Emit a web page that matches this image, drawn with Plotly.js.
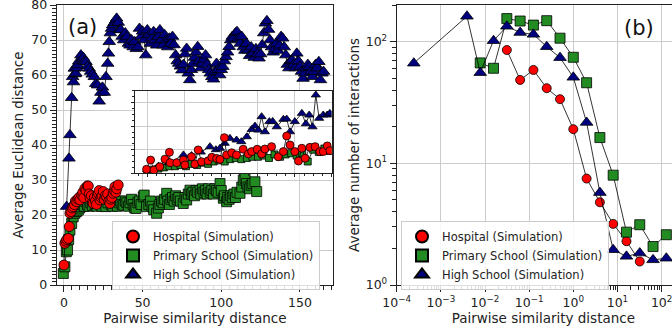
<!DOCTYPE html>
<html><head><meta charset="utf-8">
<script src="https://cdn.plot.ly/plotly-3.0.1.min.js"></script>
<style>html,body{margin:0;padding:0;overflow:hidden;background:#fff}#chart{width:690px;height:333px}</style>
</head><body><div id="chart"></div>
<script>
// ---------- Panel (a) data ----------
const aHosX = [0,0.6,1.2,1.8,2.8,3.4,3.8,4.5,5.2,5.9,6.6,7.3,8.1,8.8,9.5,10.2,11.3,12,12.6,13.3,14,14.8,15.5,16.1,16.6,17.4,18,18.6,19.3,20,20.7,21.3,21.8,22.4,22.9,23.6,24.2,25,25.6,26.3,27.1,27.8,28.5,29.2,29.8,30.5,31.3,31.9,32.4,33,33.6,34.5];
const aHosY = [5.7,11.9,12.5,13,13.3,16.7,20.5,21,22,22.4,23,24,23.8,24.5,25,24.3,25.7,26.5,25,27.6,27,28.3,28.3,26,24.8,25.5,23.5,23.3,25,24,23,25.5,26.2,27,24.3,25,25.5,26.7,24.5,25.5,25.2,26,24,23.3,24.5,25,26.2,27,28.1,26.5,27.5,28.6];

const aPriX = [-0.4,0.6,1.5,2.3,3,3.8,4.9,5.9,7,8,9.1,10,11,12,13,14,15,16,17,18,19,20,21,22,23,24,25,26,26.7,28,29,30,31,32,33,34,35,36,37,38,39,40,41,42,43,44,45,45.8,47,48,49,50.4,51,52.5,54,55,56,57,58.9,60,61,62,63,64,65.3,66,67,68,69,70,71,72,73,74,75.8,77,78,79,80.1,81,82,83,84,85,86.5,87,88,89,90,91,92,93,94,95,96,97,98,99.2,100,101.3,102,103.4,104,105,106,107,108,109,110,111.9,113,114,115.1,116,117,118,119,120,121.4,122.5];
const aPriY = [3.3,5.2,9.5,10,13,15.7,17.6,19.5,20.5,21,21.4,22,22.5,23,22.5,23.8,23,22.5,23.5,22.8,24,23,22.5,24,23.5,22.5,23.5,24,22.4,23.5,24.5,23,22.5,24,23.5,22.5,23.5,24,23,22.8,24,23.5,22.5,23.5,24.5,23,22,21.9,23.5,24,23,25.2,25.7,22.4,23,24,22.5,21.5,20.5,22,23,24,23.5,24.5,26.2,24,23,24.5,25,24,25.5,24.5,25,24,23.3,25,24.3,26,27.1,26,26.5,25.5,27,26.5,27.1,26,27.5,26.5,27,26,27.5,26.5,27,26,27.5,27,26.5,29,27,24.8,25.5,23.8,25,24.5,25.5,25,26,25,26.5,26.2,28,30,30.5,29,28,27.5,28.5,29,29.5,26.7];

const aHigX = [1.7,3.2,3.8,4.9,5.5,6.1,6.6,7.0,7.5,8.1,8.7,9.5,10.8,11.5,12.3,13,14,15,16.1,17,18,19.3,20.2,21.4,22.4,23.5,24.5,25.6,26.7,27.8,28.3,28.8,29.5,30.3,31,32,33,33.5,34.5,35.5,36.2,37,38,39,40,41,42,43,44,45,46,47,48,49,50,51,52,53,54,55,56,57,58,59,60,61,62,63,64,65,66,67,68,69,70,71,72,73,74,75,76,77,78,79,80,81,82,83,84,85,86,87,88,89,90,91,92,93,94,95,96,97,98,99,100,101,102,103,104,105,106,107,108,109,110,111,112,113,114,115,116,117,118,119,120,121,122,123,124,125,126,127,128,129,130,131,132,133,134,135,136,137,138,139,140,141,142,143,144,145,146,147,148,149,150,151,152,153,154,155,156,157,158,159,160,161,162,163,164,165];
const aHigY = [22.4,36.2,42.9,53.5,59.5,58,61.9,60.3,60.5,62,62.9,64,65.7,64.5,65,64,63.8,62.5,61.9,61,60.2,59.5,57.5,57.1,52.5,55,56.5,55,59.5,63.3,66.2,69.5,72,73.3,74.3,75,75.7,76.2,75,73,72.9,71,70,72,70.9,69,68.5,70,68,69.5,67.5,68,73.3,71,72.5,70,65.7,72.9,71.5,69,70.5,72.4,70,68.5,71,72.9,70,68.5,71.5,70,68,70.5,69,71,68.6,65.7,64,63.3,62.5,61.4,63,66,67.6,60.5,58.6,61.5,63.3,65,66.5,68.1,64,62,63.3,64.5,65.7,63,61.5,60.5,59.5,58.8,61,63.3,61.5,60,61.5,62.4,64,65.2,66.5,68.1,70,71,70.5,72,72.4,70.5,69,71,68,67,69,67.1,65.5,68,66.2,65,67.5,66,64.8,66,68.6,72,74.8,75.5,73,70,68,66.5,67.5,69,67,68.5,71,70.5,68,65.7,63,62,64,64.3,63,62,66.2,64,62.4,61,59,60.5,62,63,62.4,61,59.5,61,63,62,63.8,58.6,60.5,61];

// ---------- Inset data ----------
const inHosX = [-0.02,0.09,0.18,0.34,0.48,0.6,0.62,0.8,0.98,1.02,1.2,1.29,1.38,1.47,1.65,1.75,1.88,1.97,2.09,2.15,2.29,2.42,2.6,2.74,2.83,2.98,3.1,3.19,3.37,3.55,3.69,3.78,3.87,4.0,4.1,4.19,4.28,4.41,4.55,4.68,4.77,4.88,4.95];
const inHosY = [0.17,0.56,0.14,0.28,0.6,0.89,0.45,0.45,0.56,0.35,0.7,0.39,0.99,0.49,0.53,0.68,0.63,0.59,1.51,0.78,0.87,0.78,1.02,0.82,0.92,1.02,0.82,1.03,1.13,0.7,0.92,1.58,1.2,0.92,0.52,1.06,0.64,1.1,1.13,0.92,0.92,1.16,0.96];
const inPriX = [0,0.15,0.3,0.45,0.6,0.75,0.9,1.05,1.2,1.35,1.5,1.65,1.8,1.95,2.1,2.25,2.4,2.55,2.7,2.85,3.0,3.15,3.3,3.45,3.6,3.75,3.9,4.05,4.2,4.35,4.5,4.65,4.8,4.95];
const inPriY = [0.1,0.15,0.2,0.25,0.3,0.3,0.35,0.3,0.4,0.35,0.45,0.4,0.5,0.55,0.5,0.6,0.65,0.6,0.65,0.7,0.7,0.75,0.65,0.8,0.7,0.8,0.85,0.75,0.85,0.5,1.0,0.9,1.05,0.95];
const inHigX = [0.0,0.3,0.6,0.98,1.2,1.45,1.7,1.86,1.97,2.1,2.24,2.42,2.55,2.7,2.83,2.92,3.01,3.1,3.19,3.31,3.4,3.51,3.69,3.78,3.87,4.0,4.19,4.3,4.39,4.48,4.57,4.66,4.77,4.88,4.95];
const inHigY = [0.15,0.3,0.45,0.78,0.75,0.9,1.13,1.0,1.06,1.27,1.48,1.41,1.34,1.55,1.86,2.0,1.83,2.4,1.76,2.19,2.2,1.97,2.29,2.3,1.76,2.19,2.54,2.1,2.47,1.97,3.32,2.33,2.47,2.47,2.54];

// ---------- Panel (b) data ----------
const bHosX = [0.03125,0.0625,0.125,0.25,0.5,1,2,4,8,16,32];
const bHosY = [85.5,48.5,58.6,41.5,33.7,19.1,7.5,4.79,3.18,2.29,1.56];
const bPriX = [0.0078,0.0156,0.03125,0.0625,0.125,0.25,0.5,1,2,4,8,16,32,64,128];
const bPriY = [67,60.5,155,148,137,149,107,74.5,46,16.3,8.0,2.72,3.13,2.07,2.59];
const bHigX = [0.000244,0.0039,0.0078,0.0156,0.03125,0.0625,0.125,0.25,0.5,1,2,4,8,16,32,64,128];
const bHigY = [66.6,162,55.7,102,134,119,115,91,74,51,21.7,5.75,1.95,1.72,1.83,1.61,1.66];

// ---------- tick labels ----------
const aXTicks = [0,50,100,150];
const aYTicks = [0,10,20,30,40,50,60,70,80];
const bXTicks = [0.0001,0.001,0.01,0.1,1,10,100];
const bXText = ['10<sup>−4</sup>','10<sup>−3</sup>','10<sup>−2</sup>','10<sup>−1</sup>','10<sup>0</sup>','10<sup>1</sup>','10<sup>2</sup>'];
const bYTicks = [1,10,100];
const bYText = ['10<sup>0</sup>','10<sup>1</sup>','10<sup>2</sup>'];

const names = ['Hospital (Simulation)','Primary School (Simulation)','High School (Simulation)'];
const colors = ['#ff0000','#228b22','#00007f'];
const symbols = ['circle','square','triangle-up'];

function tr(x,y,i,xa,ya,size){
  return {x:x,y:y,xaxis:xa,yaxis:ya,type:'scatter',mode:'lines+markers',name:names[i],
    showlegend:false,cliponaxis:true,
    line:{color:'#000',width:0.8},
    marker:{symbol:symbols[i],color:colors[i],size:size,line:{color:'#000',width:0.8}}};
}
const data = [
  tr(aPriX,aPriY,1,'x','y',10),
  tr(aHigX,aHigY,2,'x','y',11),
  tr(aHosX,aHosY,0,'x','y',10),
  tr(inPriX,inPriY,1,'x3','y3',7),
  tr(inHigX,inHigY,2,'x3','y3',8),
  tr(inHosX,inHosY,0,'x3','y3',8),
  tr(bHosX,bHosY,0,'x2','y2',9),
  tr(bPriX,bPriY,1,'x2','y2',10),
  tr(bHigX,bHigY,2,'x2','y2',11)
];
// legend entries (order Hospital, Primary, High)
[0,1,2].forEach(i=>{
  data.push({x:[null],y:[null],xaxis:'x',yaxis:'y',type:'scatter',mode:'markers',name:names[i],legend:'legend',showlegend:true,
    marker:{symbol:symbols[i],color:colors[i],size:13,line:{color:'#000',width:0.8}}});
  data.push({x:[null],y:[null],xaxis:'x2',yaxis:'y2',type:'scatter',mode:'markers',name:names[i],legend:'legend2',showlegend:true,
    marker:{symbol:symbols[i],color:colors[i],size:13,line:{color:'#000',width:0.8}}});
});

const W=690,H=333;
const fam='DejaVu Sans, sans-serif';
const grid='#cccccc', ax='#222';
const tf = {family:fam,size:12.5,color:'#222'};
const common = {showline:true,linecolor:ax,linewidth:1,mirror:true,ticks:'outside',ticklen:6,tickwidth:1,tickcolor:ax,
  showgrid:true,gridcolor:grid,gridwidth:1,zeroline:false,tickfont:tf,ticklabeloverflow:'allow'};

const layout = {
  width:W,height:H,margin:{l:0,r:0,t:0,b:0},paper_bgcolor:'#fff',plot_bgcolor:'#fff',
  font:{family:fam,color:'#222'},
  xaxis:Object.assign({},common,{domain:[56.7/W,333/W],range:[-4.6,171],tickmode:'array',tickvals:aXTicks,
    minor:{ticks:'outside',ticklen:3.5,tickcolor:ax,dtick:5,tick0:0,showgrid:false},
    title:{text:'Pairwise similarity distance',font:{family:fam,size:13.5,color:'#222'},standoff:4},anchor:'y'}),
  yaxis:Object.assign({},common,{domain:[1-285/H,1-5/H],range:[0,80.02],tickmode:'array',tickvals:aYTicks,
    minor:{ticks:'outside',ticklen:3.5,tickcolor:ax,dtick:1,tick0:0,showgrid:false},
    title:{text:'Average Euclidean distance',font:{family:fam,size:13.5,color:'#222'},standoff:4},anchor:'x'}),
  xaxis2:Object.assign({},common,{type:'log',domain:[396.7/W,1],range:[-4,2.643],tickmode:'array',tickvals:bXTicks,ticktext:bXText,
    minor:{ticks:'outside',ticklen:3.5,tickcolor:ax,dtick:'D1',showgrid:false},
    title:{text:'Pairwise similarity distance',font:{family:fam,size:13.5,color:'#222'},standoff:2},anchor:'y2'}),
  yaxis2:Object.assign({},common,{type:'log',domain:[1-285/H,1-5/H],range:[0,2.302],tickmode:'array',tickvals:bYTicks,ticktext:bYText,
    minor:{ticks:'outside',ticklen:3.5,tickcolor:ax,dtick:'D1',showgrid:false},
    title:{text:'Average number of interactions',font:{family:fam,size:13.5,color:'#222'},standoff:2},anchor:'x2'}),
  xaxis3:{domain:[135/W,331.7/W],range:[-0.333,5.0],dtick:1,tick0:0,showticklabels:false,showline:true,linecolor:ax,mirror:true,
    ticks:'outside',ticklen:3,tickcolor:ax,showgrid:true,gridcolor:grid,zeroline:false,anchor:'y3',
    minor:{ticks:'outside',ticklen:2,tickcolor:ax,dtick:0.25,showgrid:false}},
  yaxis3:{domain:[1-173.3/H,1-90.7/H],range:[0,3.5],dtick:1,tick0:0,showticklabels:false,showline:true,linecolor:ax,mirror:true,
    ticks:'outside',ticklen:3,tickcolor:ax,showgrid:true,gridcolor:grid,zeroline:false,anchor:'x3',
    minor:{ticks:'outside',ticklen:2,tickcolor:ax,dtick:0.25,showgrid:false}},
  legend:{x:112/W,y:1-221/H,xanchor:'left',yanchor:'top',bgcolor:'rgba(255,255,255,0.85)',bordercolor:'#cccccc',borderwidth:1,
    font:{family:fam,size:11.5,color:'#222'},tracegroupgap:0,itemsizing:'constant'},
  legend2:{x:401/W,y:1-221/H,xanchor:'left',yanchor:'top',bgcolor:'rgba(255,255,255,0.85)',bordercolor:'#cccccc',borderwidth:1,
    font:{family:fam,size:11.5,color:'#222'},tracegroupgap:0,itemsizing:'constant'},
  annotations:[
    {text:'(a)',xref:'paper',yref:'paper',x:66/W,y:1-27/H,xanchor:'left',yanchor:'middle',showarrow:false,font:{family:fam,size:21,color:'#111'}},
    {text:'(b)',xref:'paper',yref:'paper',x:622/W,y:1-28/H,xanchor:'left',yanchor:'middle',showarrow:false,font:{family:fam,size:21,color:'#111'}}
  ]
};
Plotly.newPlot('chart',data,layout,{staticPlot:true,displayModeBar:false});
</script></body></html>
